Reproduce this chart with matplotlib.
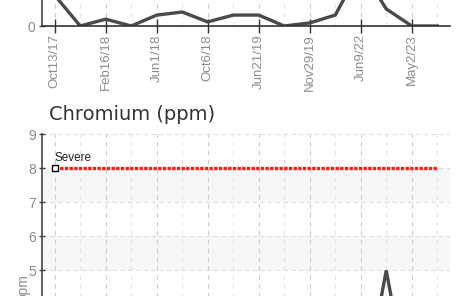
import matplotlib
matplotlib.use("Agg")
import matplotlib.pyplot as plt
from matplotlib import font_manager

# sample dates (only every other one gets a label on the axis)
dates = ['Oct13/17', 'Dec15/17', 'Feb16/18', 'Apr6/18', 'Jun1/18', 'Aug3/18',
         'Oct6/18', 'Feb9/19', 'Jun21/19', 'Sep6/19', 'Nov29/19', 'Jun4/21',
         'Jun9/22', 'Nov14/22', 'May2/23', 'Nov8/23']
# upper chart (only its bottom edge is in view)
upper_vals = [0.9, 0.0, 0.2, 0.0, 0.32, 0.41, 0.12, 0.32, 0.32, 0.0, 0.09, 0.32,
              1.7, 0.5, 0.0, 0.0]
# Chromium (ppm)
chromium = [2.0, 1.0, 1.0, 1.0, 1.0, 1.0, 1.0, 1.0, 1.0, 1.0, 1.0, 1.0,
            1.0, 5.0, 1.0, 1.0]
severe = 8
yticks = [0, 1, 2, 3, 4, 5, 6, 7, 8, 9]
bands = [(1, 2), (3, 4), (5, 6), (7, 8)]

names = {f.name for f in font_manager.fontManager.ttflist}
cond = 'Liberation Sans Narrow' if 'Liberation Sans Narrow' in names else 'Liberation Sans'

W, H = 458, 296
fig = plt.figure(figsize=(W / 100, H / 100), dpi=100)

x = list(range(len(dates)))
line_col = '#4a4a4a'
lab_col = '#8c8c8c'


def px(left, top, w, h):
    # rectangle given in pixels from the top-left corner
    return [left / W, (H - top - h) / H, w / W, h / H]


def style(ax):
    ax.set_xlim(-0.5, len(dates) - 0.5)
    ax.set_ylim(0, 9)
    ax.set_yticks(yticks)
    ax.set_xticks(x[::2])
    ax.set_xticks(x[1::2], minor=True)
    ax.spines[['top', 'right']].set_visible(False)
    ax.spines['left'].set_color('#444444')
    ax.spines['left'].set_linewidth(1.2)
    ax.spines['bottom'].set_color('#333333')
    ax.spines['bottom'].set_linewidth(1.2)
    ax.tick_params(axis='y', direction='inout', length=5, width=1, color='#444444',
                   labelcolor=lab_col, labelsize=10, pad=2)
    ax.tick_params(axis='x', which='major', direction='inout', length=10, width=1,
                   color='#333333', labelcolor=lab_col, labelsize=9.5, pad=1,
                   labelrotation=90)
    ax.tick_params(axis='x', which='minor', length=0)
    for t in ax.get_xticklabels() + ax.get_yticklabels():
        t.set_fontfamily(cond)
    ax.grid(True, axis='y', color='#dddddd', linestyle=(0, (4, 3)), linewidth=0.8)
    ax.grid(True, axis='x', which='major', color='#cccccc', linestyle=(0, (4, 4)),
            linewidth=0.8)
    ax.grid(True, axis='x', which='minor', color='#e4e4e4', linestyle=(0, (4, 4)),
            linewidth=0.8)
    ax.set_axisbelow(True)
    for lo, hi in bands:
        ax.axhspan(lo, hi, color='#f7f7f7', zorder=0, lw=0)


# upper chart, zero line sits 26 px from the top
ax1 = fig.add_axes(px(42, 26 - 307, 408, 307))
style(ax1)
ax1.plot(x, upper_vals, color=line_col, lw=2.4, solid_joinstyle='miter')
ax1.set_xticklabels(dates[::2], family=cond)

# Chromium chart, 9 sits at 134 px
ax2 = fig.add_axes(px(42, 134, 408, 307))
style(ax2)
ax2.set_xticklabels(dates[::2], family=cond)
ax2.plot(x, chromium, color=line_col, lw=2.4, solid_joinstyle='miter')
ax2.plot([x[0], x[-1]], [severe, severe], color='#ff1a1a', lw=2.4,
         linestyle=(0, (1, 0.4)), dash_capstyle='butt', zorder=3)
ax2.plot([x[0]], [severe], marker='s', ms=4, mfc='white', mec='black', mew=1, zorder=4)
ax2.text(x[0], severe + 0.12, 'Severe', fontsize=8.5, family=cond, color='#222222',
         va='bottom', ha='left')
ax2.set_ylabel('ppm', color=lab_col, fontsize=10, family=cond, labelpad=-2)

fig.text(49 / W, (H - 114) / H, 'Chromium (ppm)', fontsize=14, color='#333333',
         family='DejaVu Sans', va='center', ha='left')

fig.savefig('out.png', dpi=100)
